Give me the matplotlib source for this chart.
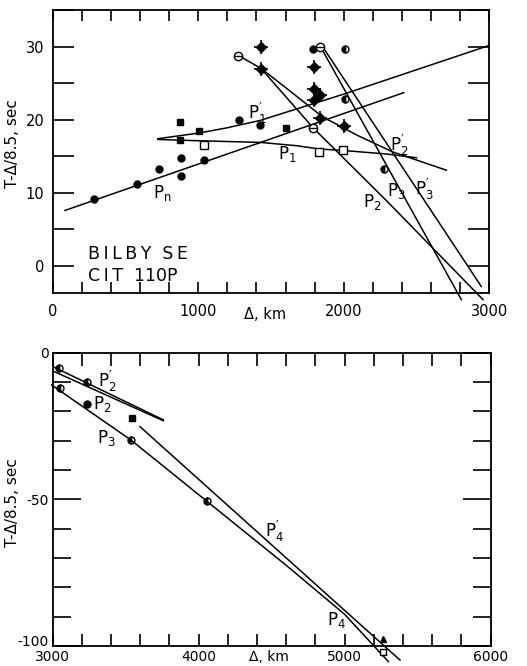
import matplotlib
matplotlib.use("Agg")
import matplotlib.pyplot as plt
import matplotlib.transforms as mtransforms
from matplotlib.ticker import MultipleLocator, FixedLocator, FixedFormatter

plt.rcParams['font.family'] = ['DejaVu Sans']
plt.rcParams['mathtext.default'] = 'regular'

# ---------------- top panel data ----------------
filled_x = [281, 581, 728, 879, 879, 1039, 1277, 1426, 1792]
filled_y = [9.1, 11.2, 13.2, 12.3, 14.7, 14.5, 20.0, 19.3, 29.7]
half_x = [2007, 2007, 2275]
half_y = [29.7, 22.9, 13.2]
diam_x = [1432, 1432, 1796, 1796, 1796, 1835, 1840, 2002]
diam_y = [29.9, 26.9, 27.2, 24.2, 22.7, 23.4, 20.2, 19.1]
hour_x = [876, 1005, 1600, 876]
hour_y = [19.7, 18.4, 18.8, 17.2]
ocirc_x = [1275, 1789, 1840]
ocirc_y = [28.7, 18.8, 30.0]
osq_x = [1037, 1831, 1995]
osq_y = [16.6, 15.6, 15.8]

Pn_x = [85, 2412]
Pn_y = [7.6, 23.7]
P1p_x = [723, 1012, 1200, 1425, 2000, 2991]
P1p_y = [17.4, 18.2, 18.9, 19.9, 23.5, 30.1]
P1_x = [723, 1046, 1425, 1675, 1831, 1995, 2300, 2500]
P1_y = [17.3, 17.1, 16.9, 16.45, 16.0, 15.8, 15.3, 14.8]
P2p_x = [1275, 1432, 1600, 1854, 2100, 2336, 2705]
P2p_y = [28.8, 27.0, 24.4, 20.4, 17.8, 15.6, 13.1]
P2_x = [1432, 1789, 2300, 2957]
P2_y = [27.0, 18.9, 8.8, -4.6]
P3_x = [1840, 2808]
P3_y = [30.0, -4.6]
P3p_x = [1854, 2945]
P3p_y = [30.0, -2.8]

top_labels = [r"$P_n$", r"$P^{\prime}_{1}$", r"$P_{1}$", r"$P^{\prime}_{2}$", r"$P_{2}$", r"$P_{3}$", r"$P^{\prime}_{3}$"]
top_lab_x = [690, 1341, 1548, 2316, 2133, 2295, 2488]
top_lab_y = [10.0, 20.8, 15.3, 16.5, 8.8, 10.3, 10.4]

# ---------------- bottom panel data ----------------
b_half_x = [3046, 3233, 3050, 3537, 4055]
b_half_y = [-5.3, -9.9, -11.9, -29.8, -50.6]
b_filled_x = [3233]
b_filled_y = [-17.6]
b_hour_x = [3543]
b_hour_y = [-22.2]
b_tri_x = [5260]
b_tri_y = [-97.7]
b_osq_x = [5260]
b_osq_y = [-101.9]

bP2p_x = [3005, 3758]
bP2p_y = [-4.8, -22.9]
bP2_x = [3000, 3758]
bP2_y = [-6.2, -23.2]
bP3_x = [2993, 3537, 4055, 4600, 5000, 5299]
bP3_y = [-11.0, -29.8, -50.6, -72.5, -89.2, -105.3]
bP4p_x = [3598, 5379]
bP4p_y = [-25.2, -104.8]

bot_labels = [r"$P^{\prime}_{2}$", r"$P_{2}$", r"$P_{3}$", r"$P^{\prime}_{4}$", r"$P_{4}$"]
bot_lab_x = [3313, 3279, 3301, 4454, 4877]
bot_lab_y = [-9.8, -17.6, -29.0, -61.0, -91.0]
bot_yticks = [-100, -50, 0]
bot_yticklabels = ["-100", "-50", "0"]

fig = plt.figure(figsize=(5.27, 6.66), dpi=100)
ax1 = fig.add_axes([0.0999, 0.5596, 0.8286, 0.4254])
ax2 = fig.add_axes([0.0999, 0.0300, 0.8312, 0.4404])

LW = 1.1
K = 'black'
LABFS = 12

def line(ax, x, y, lw=LW):
    ax.plot(x, y, color=K, lw=lw, clip_on=False, zorder=2)

# top lines
for xs, ys in [(Pn_x, Pn_y), (P1p_x, P1p_y), (P1_x, P1_y), (P2p_x, P2p_y),
               (P2_x, P2_y), (P3_x, P3_y), (P3p_x, P3p_y)]:
    line(ax1, xs, ys)

ms = 5
ax1.plot(filled_x, filled_y, 'o', color=K, ms=ms, zorder=3)
ax1.plot(half_x, half_y, 'o', color=K, ms=ms, fillstyle='left', zorder=3)
ax1.plot(diam_x, diam_y, 'D', color=K, ms=5, zorder=3)
ax1.plot(diam_x, diam_y, '+', color=K, ms=10, mew=1.2, zorder=3)
ax1.plot(hour_x, hour_y, 's', color=K, ms=5, zorder=3)
ax1.plot(ocirc_x, ocirc_y, 'o', mfc='white', mec=K, ms=6, mew=1.0, zorder=3)
ax1.plot(ocirc_x, ocirc_y, '_', color=K, ms=6, mew=1.0, zorder=4)
ax1.plot(osq_x, osq_y, 's', mfc='white', mec=K, ms=5.5, mew=1.0, zorder=3)

for t, x, y in zip(top_labels, top_lab_x, top_lab_y):
    ax1.text(x, y, t, fontsize=LABFS, ha='left', va='center', zorder=5)

ts = "\u2009"
ax1.text(243, 1.7, ts.join("BILBY") + "  " + ts.join("SE"), fontsize=12.5, ha='left', va='center')
ax1.text(243, -1.4, ts.join("CIT") + "  110P", fontsize=12.5, ha='left', va='center')

ax1.set_xlim(0, 3000)
ax1.set_ylim(-3.73, 35)
ax1.xaxis.set_major_locator(FixedLocator([0, 1000, 2000, 3000]))
ax1.xaxis.set_minor_locator(MultipleLocator(200))
ax1.yaxis.set_major_locator(FixedLocator([0, 10, 20, 30]))
ax1.yaxis.set_minor_locator(MultipleLocator(5))
ax1.tick_params(which='both', direction='in', top=True, right=True, labelsize=10.5, width=1.2)
ax1.tick_params(axis='x', which='both', length=8)
ax1.tick_params(axis='y', which='both', length=15)
ax1.tick_params(axis='x', pad=8)
ax1.tick_params(axis='y', pad=6)
ax1.set_ylabel("T-Δ/8.5, sec", fontsize=11)
ax1.yaxis.set_label_coords(-0.075, 0.53)
ax1.text(1459, -6.6, "Δ, km", fontsize=10.5, ha='center', va='center')

# bottom lines
for xs, ys in [(bP2p_x, bP2p_y), (bP2_x, bP2_y), (bP3_x, bP3_y), (bP4p_x, bP4p_y)]:
    line(ax2, xs, ys)

ax2.plot(b_half_x, b_half_y, 'o', color=K, ms=ms, fillstyle='left', zorder=3)
ax2.plot(b_filled_x, b_filled_y, 'o', color=K, ms=ms, zorder=3)
ax2.plot(b_hour_x, b_hour_y, 's', color=K, ms=5, zorder=3)
ax2.plot(b_tri_x, b_tri_y, '^', color=K, ms=5, zorder=3, clip_on=False)
ax2.plot(b_osq_x, b_osq_y, 's', mfc='white', mec=K, ms=4, zorder=3, clip_on=False)

for t, x, y in zip(bot_labels, bot_lab_x, bot_lab_y):
    ax2.text(x, y, t, fontsize=LABFS, ha='left', va='center', zorder=5)

ax2.set_xlim(3000, 6000)
ax2.set_ylim(-100, 0)
ax2.xaxis.set_major_locator(FixedLocator([3000, 4000, 5000, 6000]))
ax2.xaxis.set_minor_locator(MultipleLocator(200))
ax2.yaxis.set_major_locator(FixedLocator(bot_yticks))
ax2.yaxis.set_major_formatter(FixedFormatter(["", bot_yticklabels[1], bot_yticklabels[2]]))
ax2.yaxis.set_minor_locator(MultipleLocator(10))
ax2.tick_params(which='both', direction='in', top=True, right=True, labelsize=10, width=1.2)
ax2.tick_params(axis='x', which='both', length=9)
ax2.tick_params(axis='x', pad=3)
ax2.tick_params(axis='y', which='both', length=13)
ax2.tick_params(axis='y', which='major', length=20, pad=3)
# lowest y label, lifted slightly so it clears the "3000" label below
off = mtransforms.ScaledTranslation(-3 / 72, 3 / 72, fig.dpi_scale_trans)
ax2.text(0, bot_yticks[0], bot_yticklabels[0], fontsize=10, ha='right', va='center',
         transform=ax2.get_yaxis_transform() + off)
ax2.set_ylabel("T-Δ/8.5, sec", fontsize=11)
ax2.yaxis.set_label_coords(-0.075, 0.49)
ax2.text(4481, -103.6, "Δ, km", fontsize=10, ha='center', va='center')

for ax in (ax1, ax2):
    for s in ax.spines.values():
        s.set_linewidth(1.3)

fig.savefig("out.png", dpi=100)
